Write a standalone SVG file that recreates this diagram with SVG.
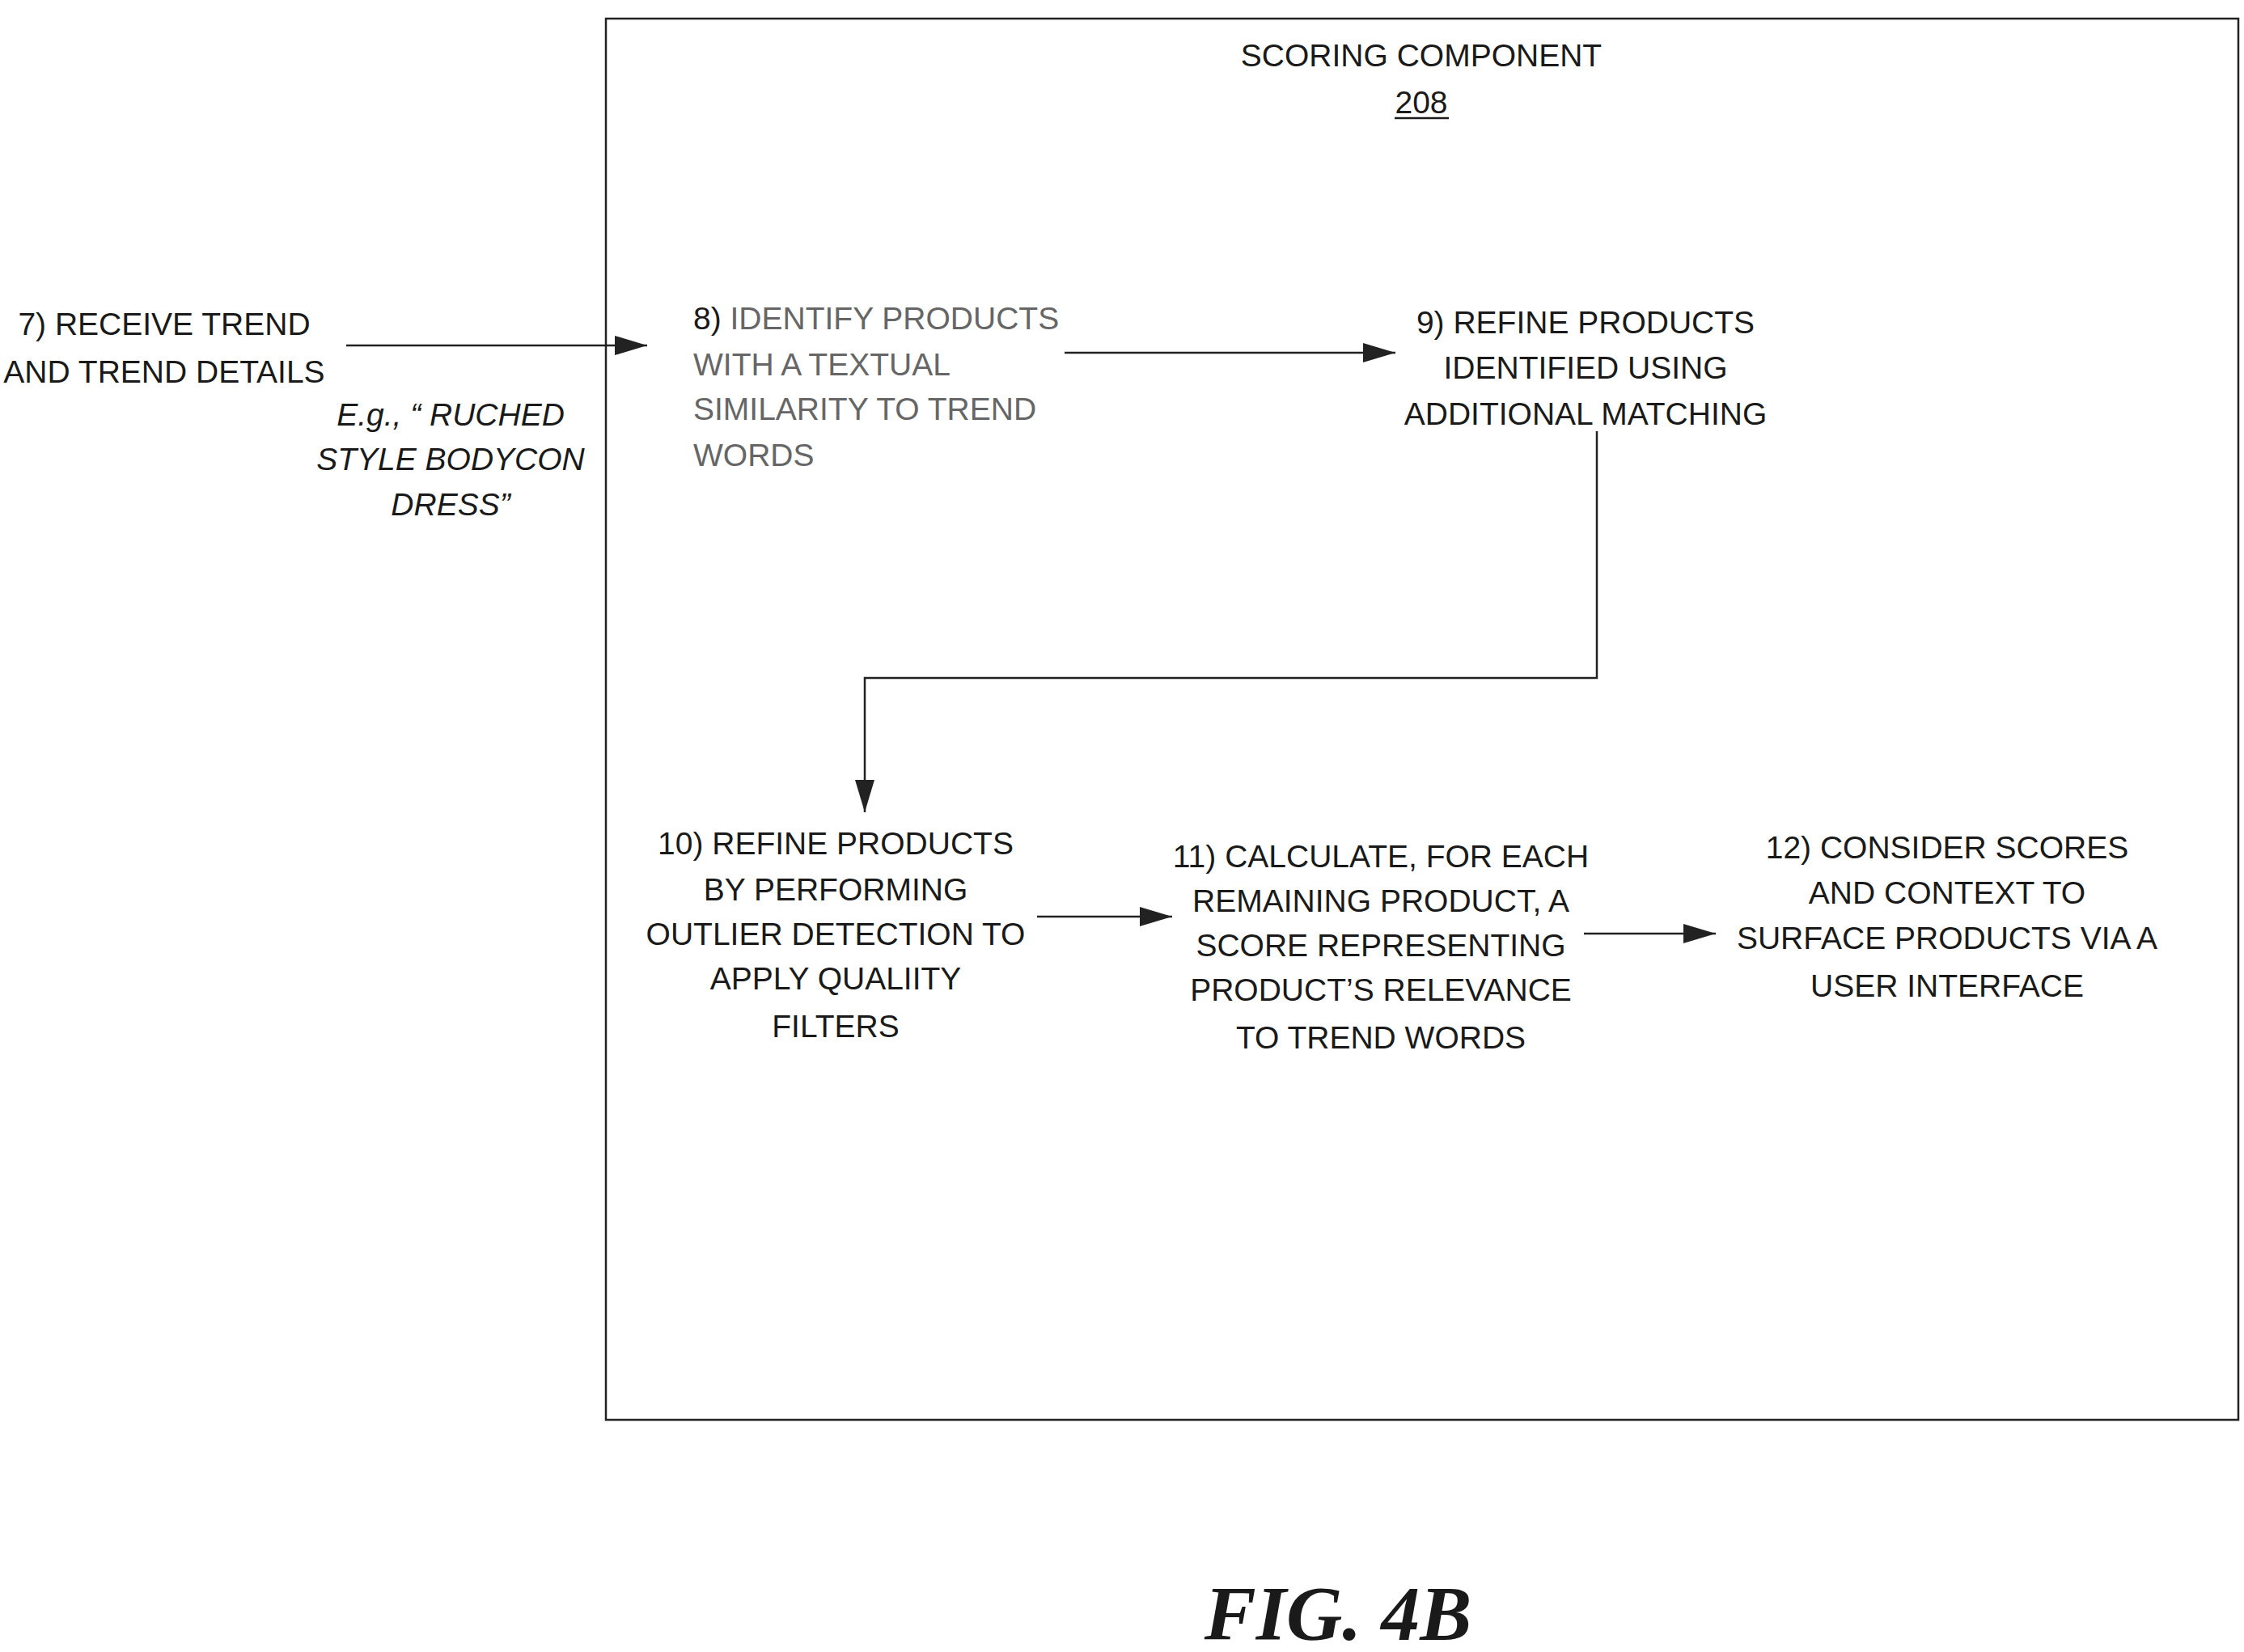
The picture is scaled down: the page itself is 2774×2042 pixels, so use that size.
<svg xmlns="http://www.w3.org/2000/svg" width="2774" height="2042" viewBox="0 0 2774 2042">
<style>
text{font-family:"Liberation Sans",Arial,sans-serif;font-size:39px;fill:#1a1a1a}
.c{text-anchor:middle}
.g{fill:#666}
.i{font-style:italic}
.ln{stroke:#222;stroke-width:2.5;fill:none}
</style>
<defs><marker id="b" markerWidth="40" markerHeight="24" refX="40" refY="12" orient="auto" markerUnits="userSpaceOnUse"><path d="M0,0L40,12L0,24Z" fill="#222"/></marker></defs>
<rect x="749" y="23" width="2018" height="1732" fill="none" stroke="#222" stroke-width="2.5"/>
<g id="title"><text class="c" x="1757" y="82">SCORING COMPONENT</text><text class="c" x="1757" y="140">208</text><line x1="1724" y1="146" x2="1791" y2="146" stroke="#1a1a1a" stroke-width="2.5"/></g>
<g id="n7"><text class="c" x="203" y="414">7) RECEIVE TREND</text><text class="c" x="203" y="473">AND TREND DETAILS</text></g>
<g id="eg"><text class="c i" x="557" y="526">E.g., “ RUCHED</text><text class="c i" x="557" y="581">STYLE BODYCON</text><text class="c i" x="557" y="637">DRESS”</text></g>
<g id="n8"><text x="857" y="407"><tspan>8) </tspan><tspan class="g">IDENTIFY PRODUCTS</tspan></text><text class="g" x="857" y="464">WITH A TEXTUAL</text><text class="g" x="857" y="519">SIMILARITY TO TREND</text><text class="g" x="857" y="576">WORDS</text></g>
<g id="n9"><text class="c" x="1960" y="412">9) REFINE PRODUCTS</text><text class="c" x="1960" y="468">IDENTIFIED USING</text><text class="c" x="1960" y="525">ADDITIONAL MATCHING</text></g>
<g id="n10"><text class="c" x="1033" y="1056">10) REFINE PRODUCTS</text><text class="c" x="1033" y="1113">BY PERFORMING</text><text class="c" x="1033" y="1168">OUTLIER DETECTION TO</text><text class="c" x="1033" y="1223">APPLY QUALIITY</text><text class="c" x="1033" y="1282">FILTERS</text></g>
<g id="n11"><text class="c" x="1707" y="1072">11) CALCULATE,  FOR EACH</text><text class="c" x="1707" y="1127">REMAINING PRODUCT, A</text><text class="c" x="1707" y="1182">SCORE REPRESENTING</text><text class="c" x="1707" y="1237">PRODUCT’S  RELEVANCE</text><text class="c" x="1707" y="1296">TO TREND WORDS</text></g>
<g id="n12"><text class="c" x="2407" y="1061">12) CONSIDER SCORES</text><text class="c" x="2407" y="1117">AND CONTEXT TO</text><text class="c" x="2407" y="1173">SURFACE PRODUCTS VIA A</text><text class="c" x="2407" y="1232">USER INTERFACE</text></g>
<g id="connectors">
<line class="ln" x1="428" y1="427" x2="800" y2="427" marker-end="url(#b)"/>
<line class="ln" x1="1316" y1="436" x2="1725" y2="436" marker-end="url(#b)"/>
<polyline class="ln" points="1974,533 1974,838 1069,838 1069,1004" stroke="#777" marker-end="url(#b)"/>
<line class="ln" x1="1282" y1="1133" x2="1449" y2="1133" marker-end="url(#b)"/>
<line class="ln" x1="1958" y1="1154" x2="2121" y2="1154" marker-end="url(#b)"/>
</g>
<text x="1654" y="2027" class="c" style="font-family:'Liberation Serif',serif;font-weight:bold;font-style:italic;font-size:96px">FIG. 4B</text>
</svg>
